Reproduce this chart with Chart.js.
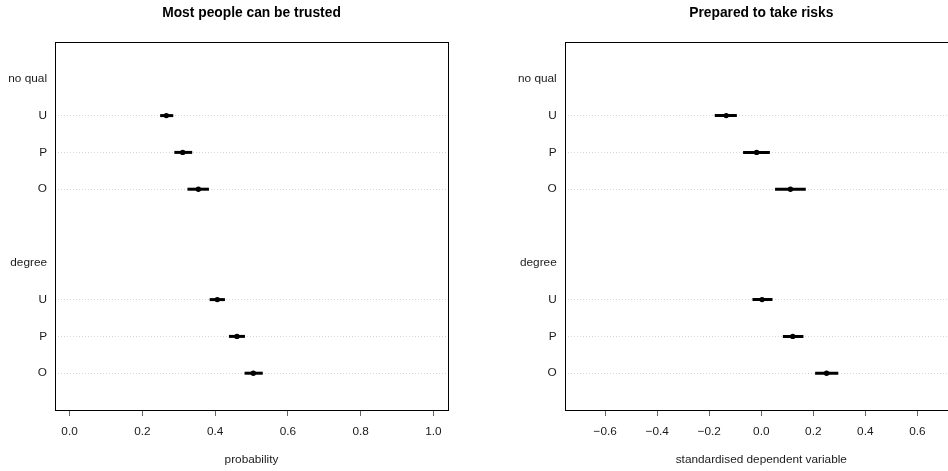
<!DOCTYPE html>
<html>
<head>
<meta charset="utf-8">
<script src="https://cdn.jsdelivr.net/npm/chart.js@4.4.1/dist/chart.umd.min.js"></script>
<style>
  html, body { margin: 0; padding: 0; background: #fff; overflow: hidden; width: 948px; height: 471px; }
  #wrap { position: relative; width: 948px; height: 471px; overflow: hidden; }
  #trust { position: absolute; left: 0; top: 0; }
  #risk { position: absolute; left: 474px; top: 0; }
</style>
</head>
<body>
<div id="wrap">
  <canvas id="trust" width="474" height="471"></canvas>
  <canvas id="risk" width="500" height="471"></canvas>
</div>
<script>
const groups = ['no qual', 'degree'];
const levels = ['U', 'P', 'O'];

// Most people can be trusted (probability)
const trustEst = [0.266, 0.311, 0.354, 0.406, 0.460, 0.505];
const trustLo  = [0.249, 0.288, 0.324, 0.385, 0.438, 0.481];
const trustHi  = [0.285, 0.337, 0.383, 0.427, 0.482, 0.531];
const trustTicks = [0, 0.2, 0.4, 0.6, 0.8, 1.0];

// Prepared to take risks (standardised)
const riskEst = [-0.135, -0.018, 0.112, 0.003, 0.121, 0.251];
const riskLo  = [-0.179, -0.070, 0.053, -0.034, 0.083, 0.207];
const riskHi  = [-0.094, 0.033, 0.171, 0.043, 0.162, 0.296];
const riskTicks = [-0.6, -0.4, -0.2, 0, 0.2, 0.4, 0.6];

const family = '"Liberation Sans", Arial, Helvetica, sans-serif';
Chart.defaults.font.family = family;
const txt = 11.8;

// dotchart row layout: group header, its levels, then a blank row
const rows = [];
let pos = 1;
groups.forEach(g => {
  rows.push({ pos: pos++, label: g, header: true });
  levels.forEach(l => rows.push({ pos: pos++, label: l, header: false }));
  pos++;
});
const items = rows.filter(r => !r.header);
const yMax = rows[rows.length - 1].pos + 1;

function fmt(v) {
  return v.toFixed(1).replace('-', '\u2212');
}

const boxPlugin = {
  id: 'box',
  afterDraw(chart) {
    const { ctx, chartArea: a } = chart;
    ctx.save();
    ctx.strokeStyle = '#000';
    ctx.lineWidth = 1;
    ctx.strokeRect(Math.round(a.left) + 0.5, Math.round(a.top) + 0.5,
      Math.round(a.right - a.left), Math.round(a.bottom - a.top));
    ctx.restore();
  }
};

function makeChart(id, title, xTitle, est, lo, hi, ticks, xmin, xmax, yWidth, padRight) {
  const ciSets = items.map((r, i) => ({
    type: 'line',
    data: [{ x: lo[i], y: r.pos }, { x: hi[i], y: r.pos }],
    borderColor: '#000',
    borderWidth: 3,
    borderCapStyle: 'butt',
    pointRadius: 0
  }));
  const dots = {
    type: 'scatter',
    data: items.map((r, i) => ({ x: est[i], y: r.pos })),
    backgroundColor: '#000',
    borderColor: '#000',
    borderWidth: 0,
    pointRadius: 2.7
  };

  return new Chart(document.getElementById(id), {
    type: 'scatter',
    data: { datasets: [...ciSets, dots] },
    options: {
      responsive: false,
      animation: false,
      devicePixelRatio: 1,
      layout: { padding: { left: 0, right: padRight, top: 0, bottom: 0 } },
      plugins: {
        legend: { display: false },
        tooltip: { enabled: false },
        title: {
          display: true, text: title, fullSize: false, color: '#000',
          font: { size: 13.8, weight: 'bold' },
          padding: { top: 5, bottom: 20.44 }
        }
      },
      scales: {
        x: {
          type: 'linear', min: xmin, max: xmax,
          afterBuildTicks: s => { s.ticks = ticks.map(v => ({ value: v })); },
          afterFit: s => { s.height = 61; },
          ticks: { callback: v => fmt(v), color: '#1a1a1a', font: { size: txt }, padding: 8.6, maxRotation: 0, autoSkip: false },
          grid: { drawOnChartArea: false, drawTicks: true, tickLength: 6, tickColor: '#666', tickWidth: 1 },
          border: { display: false },
          title: { display: true, text: xTitle, color: '#1a1a1a', font: { size: txt }, padding: { top: 0, bottom: 4 } }
        },
        y: {
          type: 'linear', reverse: true, min: 0, max: yMax,
          afterBuildTicks: s => { s.ticks = rows.map(r => ({ value: r.pos })); },
          afterFit: s => { s.width = yWidth; },
          ticks: {
            callback: v => { const r = rows.find(q => q.pos === v); return r ? r.label : ''; },
            color: '#1a1a1a', font: { size: txt }, padding: 8, autoSkip: false
          },
          grid: {
            drawTicks: false,
            color: c => {
              const r = c.tick && rows.find(q => q.pos === c.tick.value);
              return r && !r.header ? '#d6d6d6' : 'rgba(0,0,0,0)';
            },
            lineWidth: 1
          },
          border: { display: false, dash: [1, 2] }
        }
      }
    },
    plugins: [boxPlugin]
  });
}

makeChart('trust', 'Most people can be trusted', 'probability',
  trustEst, trustLo, trustHi, trustTicks, -0.04, 1.04, 55, 26);
makeChart('risk', 'Prepared to take risks', 'standardised dependent variable',
  riskEst, riskLo, riskHi, riskTicks, -0.756, 0.756, 90.7, 16.1);
</script>
</body>
</html>
